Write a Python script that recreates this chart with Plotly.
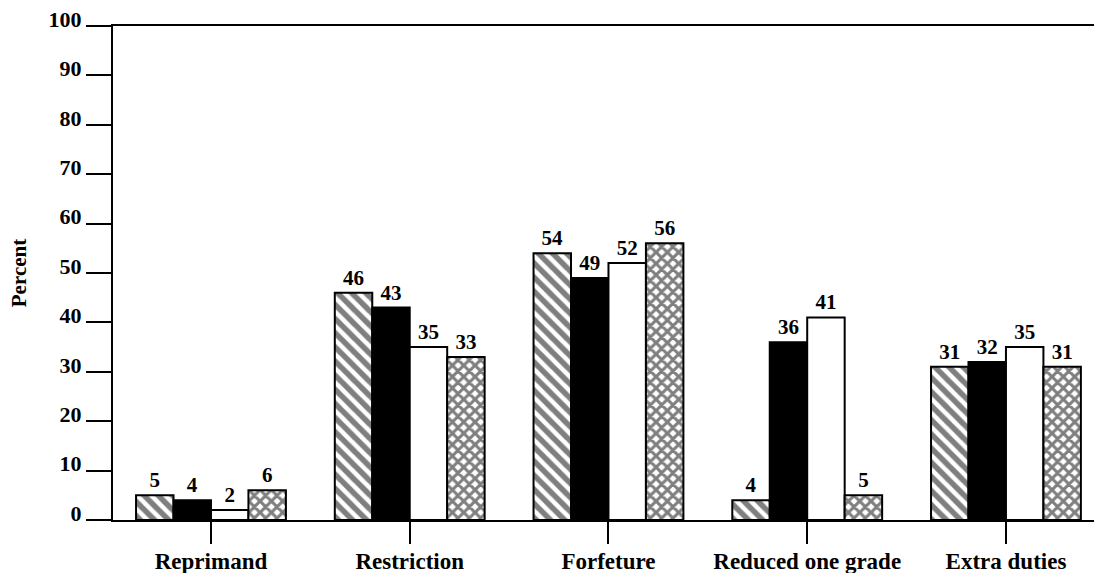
import plotly.graph_objects as go

categories = ["Reprimand", "Restriction", "Forfeture", "Reduced one grade", "Extra duties"]
series_a = [5, 46, 54, 4, 31]
series_b = [4, 43, 49, 36, 32]
series_c = [2, 35, 52, 41, 35]
series_d = [6, 33, 56, 5, 31]
y_ticks = [0, 10, 20, 30, 40, 50, 60, 70, 80, 90, 100]

FONT = "Liberation Serif"

styles = [
    dict(fill="white", shape="\\", fg="black", size=10, solidity=0.55),
    dict(fill="black", shape="", fg="black", size=8, solidity=0.3),
    dict(fill="white", shape="", fg="black", size=8, solidity=0.3),
    dict(fill="white", shape="x", fg="black", size=8, solidity=0.62),
]

fig = go.Figure()
for vals, st in zip([series_a, series_b, series_c, series_d], styles):
    fig.add_trace(go.Bar(
        x=categories, y=vals,
        text=[str(v) for v in vals],
        textposition="outside",
        cliponaxis=False,
        textfont=dict(family=FONT, size=21, color="black", weight="bold"),
        marker=dict(
            color=st["fill"],
            line=dict(color="black", width=2),
            pattern=dict(shape=st["shape"], fgcolor=st["fg"], bgcolor=st["fill"],
                         size=st["size"], solidity=st["solidity"], fillmode="overlay"),
        ),
        showlegend=False,
    ))

fig.update_layout(
    width=1094, height=573,
    margin=dict(l=113, r=0, t=26, b=53),
    paper_bgcolor="white", plot_bgcolor="white",
    barmode="group", bargap=0.246, bargroupgap=0,
    font=dict(family=FONT, color="black"),
)
fig.update_xaxes(
    range=[-0.493, 4.443], automargin=False,
    showline=True, linecolor="black", linewidth=2, mirror=True,
    ticks="outside", ticklen=22, tickwidth=2, tickcolor="black",
    tickfont=dict(family=FONT, size=23, color="black", weight="bold"),
    ticklabelstandoff=-3,
    showgrid=False, zeroline=False,
)
fig.update_yaxes(
    range=[0, 100], tickvals=y_ticks, automargin=False,
    showline=True, linecolor="black", linewidth=2, mirror=False,
    ticks="outside", ticklen=25, tickwidth=2, tickcolor="black",
    tickfont=dict(family=FONT, size=22, color="black", weight="bold"),
    ticklabelshift=-7,
    showgrid=False, zeroline=False,
    title=dict(text="Percent", font=dict(family=FONT, size=21, color="black", weight="bold"), standoff=16),
)

fig.write_html(
    "out.html",
    config={"displayModeBar": False},
    post_script="document.body.style.margin='0';document.body.style.overflow='hidden';",
)
